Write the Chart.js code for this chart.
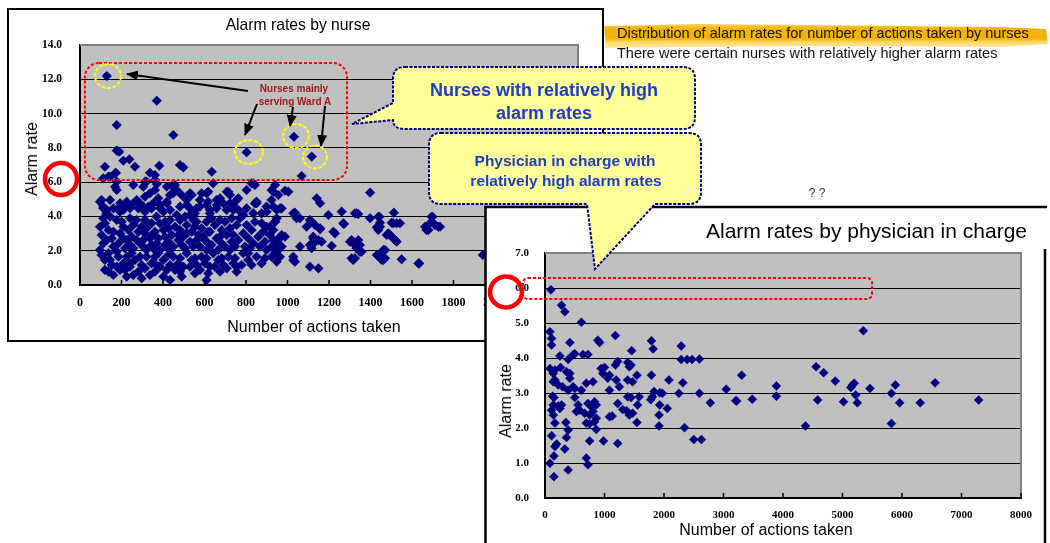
<!DOCTYPE html>
<html><head><meta charset="utf-8">
<script src="https://cdn.jsdelivr.net/npm/chart.js@4.4.0/dist/chart.umd.min.js"></script>
<style>
html,body{margin:0;padding:0;}
body{width:1050px;height:543px;overflow:hidden;background:#fff;position:relative;font-family:"Liberation Sans",Arial,sans-serif;}
.abs{position:absolute;}
.t{position:absolute;white-space:nowrap;line-height:1;transform:translate(-50%,-50%);}
</style></head><body>
<script>
// ---------------- DATA ----------------
const nurseXTicks = ["0","200","400","600","800","1000","1200","1400","1600","1800","2000","2200","2400"];
const nurseYTicks = ["0.0","2.0","4.0","6.0","8.0","10.0","12.0","14.0"];
const physXTicks = ["0","1000","2000","3000","4000","5000","6000","7000","8000"];
const physYTicks = ["0.0","1.0","2.0","3.0","4.0","5.0","6.0","7.0"];

// [number of actions taken, alarm rate] per nurse
const nursePoints = [
[129,12.19],[370,10.75],[177,9.33],[450,8.75],[803,7.74],[1031,8.65],[1117,7.49],[177,7.84],[189,7.78],[120,6.90],
[209,7.25],[238,7.33],[265,6.90],[173,6.55],[337,6.55],[361,6.42],[382,6.96],[482,7.00],[498,6.86],[635,6.61],
[1068,6.36],[112,6.22],[145,6.32],[169,6.51],[137,6.32],
[177,5.54],[169,5.73],[257,5.83],[305,5.73],[313,6.03],[361,5.54],[370,5.89],[442,5.78],[450,5.35],[490,5.25],
[642,5.93],[538,5.25],[586,5.35],[618,5.44],[675,5.06],[715,5.44],[723,5.25],[763,5.06],[803,5.54],[835,5.93],
[843,5.83],[940,5.83],[932,5.44],[956,5.25],[1004,5.44],[1141,5.06],[1157,4.77],[96,4.86],[112,4.57],[129,4.38],
[161,4.47],[193,4.57],[225,4.67],[257,4.77],[273,4.96],[281,4.47],[313,4.28],[353,4.77],[329,4.57],[386,4.47],
[418,4.77],[514,4.67],[578,4.57],[554,4.18],[618,4.86],[626,4.38],[659,4.67],[723,4.77],[739,4.38],[851,4.77],
[875,4.18],[900,4.28],[932,4.57],[948,4.38],[972,4.47],[1028,4.18],[1044,3.89],[1197,4.08],[1261,4.28],[1325,4.18],
[1398,5.39],[1341,4.14],[1513,4.22],[1443,3.98],[1699,3.98],[988,5.50],[964,4.47],[1036,4.22],
[177,6.03],[321,6.03],[361,6.12],[418,5.74],[458,5.83],[466,5.54],[530,5.35],[610,5.35],[658,4.96],[707,5.44],
[755,4.96],[827,5.93],[843,4.76],[923,5.54],[104,4.96],[193,4.77],[225,4.86],[313,5.15],[337,5.35],[377,5.06],
[418,4.86],[434,5.25],[305,4.57],[345,4.47],[402,4.28],[482,4.57],[530,4.47],[546,4.08],[530,4.08],[578,4.96],
[610,4.67],[658,4.47],[707,4.38],[739,4.67],[763,4.38],[787,4.08],[851,4.86],[923,4.96],[112,4.47],[128,4.18],
[193,4.28],[209,4.38],[466,4.08],[145,4.96],[241,4.47],[289,4.76],[385,4.67],[434,4.38],[514,4.96],[562,4.47],
[626,4.18],[691,4.76],[803,4.47],[835,4.18],[899,4.57],
[112,3.89],[120,3.60],[137,3.21],[104,2.92],[153,2.72],[112,2.43],[161,2.24],
[177,3.79],[209,3.40],[193,3.01],[225,2.62],[185,2.43],[217,2.14],
[241,3.89],[257,3.50],[281,3.11],[249,2.82],[289,2.43],[257,2.14],
[313,3.79],[321,3.31],[345,2.92],[305,2.62],[345,2.33],[321,2.04],
[369,3.99],[385,3.60],[402,3.21],[377,2.72],[410,2.33],[385,2.04],
[434,3.79],[458,3.40],[442,2.92],[474,2.62],[450,2.24],
[506,3.99],[514,3.50],[538,3.11],[498,2.82],[530,2.53],[506,2.14],
[562,3.69],[586,3.31],[570,2.92],[602,2.62],[578,2.24],
[634,3.89],[650,3.50],[626,3.11],[658,2.72],[634,2.33],[666,2.04],
[699,3.69],[723,3.31],[707,2.92],[731,2.53],[699,2.24],
[771,3.89],[755,3.50],[787,3.01],[763,2.62],[795,2.24],
[843,3.69],[827,3.21],[859,2.82],[835,2.43],
[899,3.40],[915,2.92],[891,2.53],[932,2.14],
[120,1.46],[153,1.17],[120,0.88],[161,0.58],[137,1.85],
[185,1.65],[209,1.26],[225,0.49],[193,0.88],
[249,1.85],[265,1.46],[241,1.07],[281,0.78],[297,0.39],
[321,1.65],[345,1.26],[313,0.97],[337,0.58],
[377,1.85],[402,1.46],[385,1.07],[418,0.88],[402,0.49],[434,0.29],
[450,1.65],[474,1.26],[458,0.88],[490,0.49],
[514,1.85],[538,1.46],[530,1.07],[554,0.68],
[586,1.65],[602,1.26],[578,0.88],[610,0.29],
[642,1.85],[666,1.46],[650,1.07],[675,0.78],
[715,1.65],[739,1.26],[707,0.97],[755,0.78],
[787,1.85],[811,1.46],[779,1.17],
[851,1.65],[875,1.26],[923,1.65],[948,1.36],
[145,3.99],[96,3.40],[161,3.11],[128,2.62],[96,2.04],[177,1.95],
[201,3.69],[233,3.21],[209,2.72],[241,2.33],
[273,3.79],[297,3.40],[313,3.01],[273,2.62],[305,2.24],
[345,3.60],[361,3.11],[337,2.72],[369,2.43],[361,2.04],
[410,3.69],[426,3.31],[410,2.82],[426,2.53],[434,2.04],
[482,3.79],[482,3.21],[474,2.92],[490,2.33],
[546,3.79],[554,3.40],[514,3.01],[562,2.62],[546,2.24],
[610,3.69],[618,3.11],[594,2.82],[618,2.43],[610,2.04],
[675,3.79],[683,3.21],[675,2.82],[683,2.43],[723,2.04],
[731,3.89],[739,2.92],[747,2.24],
[803,3.50],[811,2.72],[819,2.14],
[875,3.60],[883,3.11],[867,2.24],
[940,3.69],[948,2.62],
[104,1.75],[145,1.46],[177,1.07],[137,0.78],
[225,1.65],[241,1.26],[217,0.88],[257,0.58],
[289,1.65],[297,1.17],[361,1.65],[369,1.17],[361,0.78],
[426,1.75],[434,1.17],[482,1.56],[498,1.07],[482,0.78],
[554,1.56],[562,1.17],[610,1.56],[626,1.07],[618,0.68],
[683,1.56],[691,1.17],[747,1.56],[755,1.07],
[811,1.85],[827,1.17],[891,1.56],[899,2.04],
[1092,3.40],[1116,3.69],[1133,3.50],[1221,3.11],[1269,3.60],[1213,2.28],[1028,1.65],[1028,1.46],[1108,1.07],[1149,0.97],
[1124,2.82],[1116,2.14],[1165,2.53],[1309,2.62],[1325,1.56],
[1333,4.18],[1398,3.89],[1510,3.60],[1542,3.60],[1526,3.60],[1694,3.69],[1663,3.40],[1679,3.21],[1735,3.40],[1157,3.31],
[1229,3.01],[1301,2.53],[1341,2.62],[1349,2.33],[1325,2.33],[1124,2.72],[1133,2.53],[1149,2.62],[1108,2.33],[1349,1.94],
[1446,3.40],[1438,3.21],[1478,2.92],[1494,2.92],[1502,2.82],[1526,2.53],[1518,2.62],[1462,2.04],[1438,1.75],[1454,1.46],
[1470,1.56],[1550,1.50],[1631,1.26],[1309,1.56],[1941,1.75],
[1060,3.89],[1108,3.79],[1157,3.25],[948,3.89],[940,3.69],[916,3.40],[932,3.21],[972,2.92],[988,2.82],[964,2.72],
[932,2.62],[948,2.43],[924,2.24],[972,2.24],[956,2.04],[1036,1.36],[964,1.65],[940,1.85],[1060,2.24],[1117,2.33],
[1272,3.56],[1438,3.98],[1446,3.63],[1430,3.37],[1486,3.01],[1357,1.94],[1333,2.14],[1317,1.46],[1430,1.75],[1446,1.65],
[1462,1.46],[1470,2.04],[1635,1.26],[1502,3.63],[1670,3.40],[1694,3.98],[1711,3.50],[1727,3.40],[1670,3.21]
];

// [number of actions taken, alarm rate] per physician in charge
const physicianPoints = [
[100,5.95],[278,5.51],[333,5.32],[611,5.02],[83,4.75],[111,4.56],[111,4.37],[417,4.44],[889,4.51],[917,4.44],
[1183,4.64],[1456,4.21],[1789,4.49],[1817,4.26],[2289,4.34],[250,4.06],[389,3.96],[472,4.09],[500,4.12],[639,4.10],
[722,4.10],[2289,3.96],[2389,3.96],[2472,3.96],[2595,3.97],[83,3.70],[167,3.66],[261,3.73],[139,3.56],[361,3.61],
[417,3.56],[944,3.70],[1000,3.73],[972,3.56],[1222,3.90],[1183,3.80],[1389,3.87],[1417,3.75],[1444,3.80],[1545,3.51],
[1789,3.51],[2083,3.37],[2317,3.29],[3045,3.11],[3222,2.77],[167,3.37],[222,3.23],[139,3.32],[295,3.18],[417,3.42],
[472,3.18],[389,3.08],[500,3.13],[611,3.08],[694,3.28],[806,3.32],[1056,3.42],[1083,3.51],[1195,3.37],[1250,3.18],
[1083,3.08],[1389,3.37],[1472,3.32],[128,2.91],[150,2.87],[500,2.87],[1389,2.89],[1444,2.87],[1583,2.89],[1778,2.81],
[1833,3.04],[1805,2.89],[1928,3.01],[1972,2.99],[2250,2.99],[2595,2.99],[2778,2.72],[139,2.66],[222,2.63],[278,2.66],
[111,2.51],[139,2.37],[250,2.56],[556,2.66],[583,2.51],[528,2.47],[722,2.70],[778,2.61],[833,2.75],[861,2.66],
[667,2.42],[750,2.37],[806,2.47],[861,2.28],[833,2.18],[694,2.14],[750,2.12],[861,1.96],[1222,2.70],[1306,2.53],
[1372,2.49],[1417,2.37],[1472,2.42],[1083,2.32],[1128,2.34],[1556,2.66],[1545,2.16],[1928,2.66],[1917,2.37],[2056,2.56],
[1917,2.06],[2345,2.01],[167,2.14],[350,2.16],[111,1.78],[167,1.47],[195,1.54],[389,1.94],[361,1.73],[333,1.40],
[750,1.63],[983,1.63],[1222,1.56],[2500,1.67],[2628,1.67],[150,1.20],[83,0.99],[694,1.14],[722,0.95],[389,0.80],
[150,0.61],
[3306,3.51],[3206,2.78],[3483,2.82],[3889,3.20],[3889,2.91],[4556,3.75],[4683,3.58],[4878,3.34],[4583,2.80],[5017,2.75],
[5167,3.23],[5195,3.28],[5139,3.16],[5222,2.94],[5250,2.72],[5461,3.13],[5889,3.23],[5822,2.99],[5961,2.72],[6306,2.72],
[6556,3.29],[7289,2.80],[4378,2.06],[5822,2.13],[5350,4.78]
];
</script>

<!-- Left chart frame -->
<div class="abs" style="left:7px;top:8px;width:597px;height:334px;border:2px solid #000;box-sizing:border-box;background:#fff;"></div>
<canvas id="nurseChart" class="abs" width="594" height="331" style="left:9px;top:10px;"></canvas>
<div class="t" style="left:298px;top:25px;font-size:15.7px;color:#000;">Alarm rates by nurse</div>
<div class="t" style="left:32px;top:159px;font-size:16px;transform:translate(-50%,-50%) rotate(-90deg);">Alarm rate</div>
<div class="t" style="left:314px;top:327px;font-size:16px;">Number of actions taken</div>

<!-- Right chart frame -->
<div class="abs" style="left:485px;top:206px;width:565px;height:337px;background:#fff;"></div>
<svg class="abs" style="left:0;top:0;" width="1050" height="543">
  <line x1="484" y1="207" x2="1047" y2="207" stroke="#000" stroke-width="2.5"/>
  <line x1="485.5" y1="206" x2="485.5" y2="543" stroke="#000" stroke-width="2.5"/>
  <line x1="1045" y1="249" x2="1045" y2="543" stroke="#000" stroke-width="2.5"/>
</svg>
<canvas id="physChart" class="abs" width="556" height="335" style="left:487px;top:208px;"></canvas>
<div class="abs" style="right:23px;top:220px;font-size:21px;line-height:22px;white-space:nowrap;">Alarm rates by physician in charge</div>
<div class="t" style="left:506px;top:401px;font-size:16px;transform:translate(-50%,-50%) rotate(-90deg);">Alarm rate</div>
<div class="t" style="left:766px;top:530px;font-size:16px;">Number of actions taken</div>

<!-- Highlighted notes -->
<svg class="abs" style="left:0;top:0;" width="1050" height="543">
  <defs>
    <linearGradient id="hl" x1="0" y1="0" x2="0" y2="1">
      <stop offset="0" stop-color="#fbd460"/>
      <stop offset="0.2" stop-color="#f3b200"/>
      <stop offset="0.62" stop-color="#f4b400"/>
      <stop offset="0.75" stop-color="#fbd76a"/>
      <stop offset="1" stop-color="#fde9a6"/>
    </linearGradient>
  </defs>
  <path d="M604,26 L700,24 L1000,27 L1046,29 L1048,44 L1000,47 L800,46 L606,48 Z" fill="url(#hl)"/>
</svg>
<div class="abs" style="left:617px;top:25px;font-size:14.5px;line-height:16px;color:#111;white-space:nowrap;">Distribution of alarm rates for number of actions taken by nurses</div>
<div class="abs" style="left:617px;top:45px;font-size:14.5px;line-height:16px;color:#111;white-space:nowrap;">There were certain nurses with relatively higher alarm rates</div>
<div class="t" style="left:817px;top:193px;font-size:12px;color:#333;">? ?</div>

<!-- Annotations -->
<svg class="abs" style="left:0;top:0;" width="1050" height="543">
  <defs>
    <marker id="ah" markerUnits="userSpaceOnUse" markerWidth="12" markerHeight="10" refX="11" refY="5" orient="auto">
      <path d="M0,0 L12,5 L0,10 Z" fill="#000"/>
    </marker>
  </defs>
  <rect x="85" y="63" width="262" height="117" rx="14" ry="14" fill="none" stroke="#ff0000" stroke-width="2" stroke-dasharray="3 2"/>
  <ellipse cx="108" cy="76" rx="13" ry="12" fill="none" stroke="#ffff00" stroke-width="2" stroke-dasharray="4 1.5"/>
  <ellipse cx="249" cy="152" rx="14" ry="12" fill="none" stroke="#ffff00" stroke-width="2" stroke-dasharray="4 1.5"/>
  <ellipse cx="296" cy="136" rx="13" ry="12" fill="none" stroke="#ffff00" stroke-width="2" stroke-dasharray="4 1.5"/>
  <ellipse cx="315" cy="157" rx="12" ry="11.5" fill="none" stroke="#ffff00" stroke-width="2" stroke-dasharray="4 1.5"/>
  <line x1="248" y1="91" x2="127" y2="74" stroke="#000" stroke-width="2" marker-end="url(#ah)"/>
  <line x1="257" y1="104" x2="245" y2="135" stroke="#000" stroke-width="2" marker-end="url(#ah)"/>
  <line x1="293" y1="107" x2="290" y2="126" stroke="#000" stroke-width="2" marker-end="url(#ah)"/>
  <line x1="325" y1="106" x2="321" y2="146" stroke="#000" stroke-width="2" marker-end="url(#ah)"/>
  <ellipse cx="61" cy="179" rx="16" ry="16" fill="none" stroke="#ff0000" stroke-width="4.5"/>
  <rect x="523" y="278" width="349" height="21" rx="5" ry="5" fill="none" stroke="#ff0000" stroke-width="2" stroke-dasharray="3 2"/>
  <ellipse cx="506" cy="292" rx="16" ry="15.5" fill="none" stroke="#ff0000" stroke-width="4.5"/>
  <!-- callouts -->
  <path d="M405,67 L683,67 Q695,67 695,79 L695,117 Q695,129 683,129 L405,129 Q393,129 393,120 L352,124 L393,103 L393,79 Q393,67 405,67 Z"
        fill="#ffff99" stroke="#000080" stroke-width="2" stroke-dasharray="3 1.5"/>
  <path d="M441,133 L689,133 Q701,133 701,145 L701,192 Q701,204 689,204 L655,204 L595,269 L587,204 L441,204 Q429,204 429,192 L429,145 Q429,133 441,133 Z"
        fill="#ffff99" stroke="#000080" stroke-width="2" stroke-dasharray="3 1.5"/>
</svg>
<div class="t" style="left:294px;top:89px;font-size:10px;font-weight:bold;color:#a01818;">Nurses mainly</div>
<div class="t" style="left:295px;top:102px;font-size:10px;font-weight:bold;color:#a01818;">serving Ward A</div>
<div class="t" style="left:544px;top:90px;font-size:18px;font-weight:bold;color:#1f3ec8;">Nurses with relatively high</div>
<div class="t" style="left:544px;top:113px;font-size:18px;font-weight:bold;color:#1f3ec8;">alarm rates</div>
<div class="t" style="left:565px;top:161px;font-size:15.5px;font-weight:bold;color:#1f3ec8;">Physician in charge with</div>
<div class="t" style="left:566px;top:181px;font-size:15.5px;font-weight:bold;color:#1f3ec8;">relatively high alarm rates</div>
<div class="t" style="left:691px;top:192px;font-size:12px;color:#eeeeee;">? ?</div>

<script>
const plotDecor = {
  id: 'plotDecor',
  beforeDraw(chart) {
    const {ctx, chartArea: a} = chart;
    ctx.save();
    ctx.fillStyle = '#c0c0c0';
    ctx.fillRect(a.left, a.top, a.right - a.left, a.bottom - a.top);
    ctx.restore();
  },
  beforeDatasetsDraw(chart) {
    const {ctx, chartArea: a, scales: {x}} = chart;
    ctx.save();
    ctx.strokeStyle = '#808080';
    ctx.lineWidth = 2;
    ctx.beginPath();
    ctx.moveTo(a.left, a.top); ctx.lineTo(a.right, a.top); ctx.lineTo(a.right, a.bottom);
    ctx.stroke();
    ctx.strokeStyle = '#000';
    ctx.lineWidth = 1.5;
    x.ticks.forEach(t => {
      const px = x.getPixelForValue(t.value);
      ctx.beginPath(); ctx.moveTo(px, a.bottom); ctx.lineTo(px, a.bottom - 5); ctx.stroke();
    });
    ctx.restore();
  }
};

function makeScatter(id, points, xLabels, yLabels, geo) {
  const xMax = parseFloat(xLabels[xLabels.length - 1]);
  const yMax = parseFloat(yLabels[yLabels.length - 1]);
  return new Chart(document.getElementById(id), {
    type: 'scatter',
    data: { datasets: [{
      data: points.map(p => ({x: p[0], y: p[1]})),
      pointStyle: 'rectRot', pointRadius: geo.r, pointHoverRadius: geo.r,
      backgroundColor: '#000080', borderColor: '#000080', borderWidth: 0.5
    }]},
    options: {
      responsive: false, animation: false, devicePixelRatio: 1,
      layout: { padding: { top: geo.top, right: geo.right, left: 0, bottom: 0 } },
      plugins: { legend: { display: false }, tooltip: { enabled: false }, title: { display: false } },
      scales: {
        x: {
          type: 'linear', min: 0, max: xMax,
          afterBuildTicks: s => { s.ticks = xLabels.map(l => ({value: parseFloat(l)})); },
          afterFit: s => { s.height = geo.xH; },
          grid: { display: false, drawTicks: false },
          border: { display: true, color: '#000', width: 2 },
          ticks: { autoSkip: false, maxRotation: 0, padding: geo.xPad, color: '#000',
                   font: { family: '"Liberation Serif", serif', weight: 'bold', size: geo.xFont },
                   callback: (v, i) => xLabels[i] }
        },
        y: {
          type: 'linear', min: 0, max: yMax,
          afterBuildTicks: s => { s.ticks = yLabels.map(l => ({value: parseFloat(l)})); },
          afterFit: s => { s.width = geo.yW; },
          grid: { drawTicks: false, lineWidth: 1,
                  color: c => (c.tick && c.tick.value === yMax) ? 'rgba(0,0,0,0)' : '#000' },
          border: { display: true, color: '#000', width: 2 },
          ticks: { autoSkip: false, padding: geo.yPad, color: '#000',
                   font: { family: '"Liberation Serif", serif', weight: 'bold', size: geo.yFont },
                   callback: (v, i) => yLabels[i] }
        }
      }
    },
    plugins: [plotDecor]
  });
}

makeScatter('nurseChart', nursePoints, nurseXTicks, nurseYTicks,
  { top: 35, right: 25, xH: 56, yW: 71, xPad: 11, yPad: 18, xFont: 12, yFont: 11.5, r: 4.8 });
makeScatter('physChart', physicianPoints, physXTicks, physYTicks,
  { top: 45, right: 20, xH: 45, yW: 58, xPad: 11, yPad: 16, xFont: 11, yFont: 11, r: 4.5 });
</script>
</body></html>
